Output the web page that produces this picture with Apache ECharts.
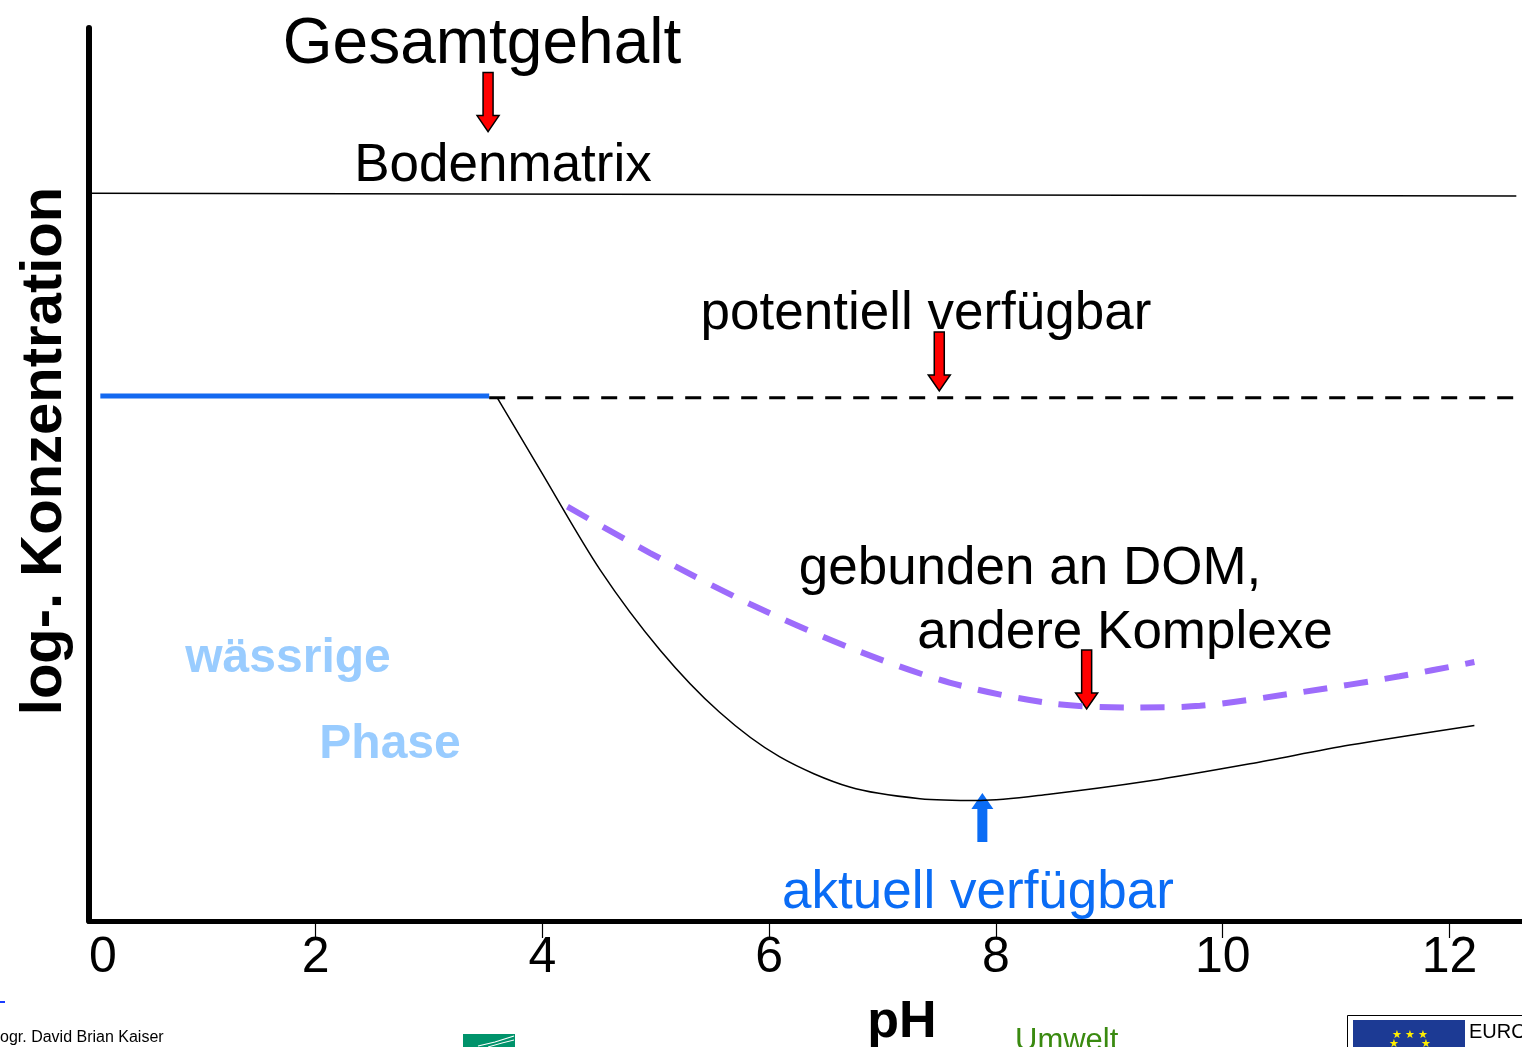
<!DOCTYPE html>
<html>
<head>
<meta charset="utf-8">
<title>pH - log. Konzentration</title>
<script src="https://cdn.jsdelivr.net/npm/echarts@6/dist/echarts.min.js"></script>
<style>
    html,body{margin:0;padding:0;background:#fff;}
    #chart{width:1522px;height:1047px;}
</style>
</head>
<body>
<div id="chart"></div>
<script>
// pH-Achse
var phTicks = [0, 2, 4, 6, 8, 10, 12];
var phTickMarks = [2, 4, 6, 8, 10, 12];

// Linien (x = pH, y = relative log-Konzentration 0..100)
var matrixPh   = [0, 12.59];
var matrixConc = [81.5, 81.2];

var waterPh    = [0.1, 3.53];
var waterConc  = [58.8, 58.8];

var potPh      = [3.53, 12.59];
var potConc    = [58.6, 58.6];

var actualPh   = [3.60, 3.98, 4.51, 5.04, 5.56, 6.09, 6.71, 7.33, 7.86, 8.47, 9.36, 10.24, 11.12, 12.22];
var actualConc = [58.6, 50.5, 39.3, 30.3, 23.4, 18.4, 15.0, 13.7, 13.5, 14.2, 15.7, 17.6, 19.7, 21.9];

var domPh      = [4.22, 4.95, 5.83, 6.71, 7.59, 8.47, 9.18, 9.80, 10.68, 11.56, 12.22];
var domConc    = [46.4, 41.2, 35.5, 30.6, 26.7, 24.4, 23.9, 24.1, 25.6, 27.4, 29.0];

// Pfeile: Spitze in Datenkoordinaten
var redArrows  = [[3.52, 88.4], [7.50, 59.35], [8.80, 23.74]];
var blueArrow  = [7.88, 14.33];

function zip(xs, ys){
    var out = [];
    for (var i = 0; i < xs.length; i++) out.push([xs[i], ys[i]]);
    return out;
}

var font = '"Liberation Sans", Arial, Helvetica, sans-serif';
var chart = echarts.init(document.getElementById('chart'));

var option = {
    animation: false,
    backgroundColor: '#fff',
    grid: {left: 89, right: 0, top: 28, bottom: 126, containLabel: false},
    xAxis: {
        type: 'value',
        min: 0,
        max: 12.64,
        interval: 2,
        axisLine: {show: true, lineStyle: {color: '#000', width: 5}},
        axisTick: {show: true, length: 17, customValues: phTickMarks, lineStyle: {color: '#000', width: 1.2}},
        axisLabel: {
            color: '#000', fontSize: 50, fontFamily: font, margin: 12,
            showMaxLabel: false,
            alignMinLabel: 'left',
            formatter: function(v){ return phTicks.indexOf(v) >= 0 ? String(v) : ''; }
        },
        splitLine: {show: false}
    },
    yAxis: {
        type: 'value',
        min: 0,
        max: 100,
        axisLine: {show: true, lineStyle: {color: '#000', width: 6}},
        axisTick: {show: false},
        axisLabel: {show: false},
        splitLine: {show: false}
    },
    series: [
        {
            name: 'Bodenmatrix', type: 'line', symbol: 'none', silent: true,
            data: zip(matrixPh, matrixConc),
            lineStyle: {color: '#000', width: 1.5}
        },
        {
            name: 'wässrige Phase', type: 'line', symbol: 'none', silent: true,
            data: zip(waterPh, waterConc),
            lineStyle: {color: '#1469f0', width: 5}
        },
        {
            name: 'potentiell verfügbar', type: 'line', symbol: 'none', silent: true,
            data: zip(potPh, potConc),
            lineStyle: {color: '#000', width: 3, type: [16, 12]}
        },
        {
            name: 'aktuell verfügbar', type: 'line', symbol: 'none', silent: true, smooth: 0.3,
            data: zip(actualPh, actualConc),
            lineStyle: {color: '#000', width: 1.5}
        },
        {
            name: 'gebunden an DOM', type: 'line', symbol: 'none', silent: true, smooth: 0.3,
            data: zip(domPh, domConc),
            lineStyle: {color: '#9d6cfb', width: 6, type: [24, 17]}
        }
    ]
};
chart.setOption(option);

function arrowPoints(x, y, len, dir){
    // dir = 1: nach unten (Spitze bei y), -1: nach oben
    var shaft = 5, head = 11, headLen = 16;
    var b = y - dir * headLen, t = y - dir * len;
    return [[x - shaft, t], [x + shaft, t], [x + shaft, b], [x + head, b],
            [x, y], [x - head, b], [x - shaft, b]];
}

function textEl(str, x, y, size, color, bold, align){
    return {
        type: 'text', x: x, y: y, silent: true,
        style: {
            text: str, fill: color, fontSize: size, fontFamily: font,
            fontWeight: bold ? 'bold' : 'normal',
            align: align || 'center', verticalAlign: 'middle'
        }
    };
}

var graphics = [];
redArrows.forEach(function(a){
    var p = chart.convertToPixel({gridIndex: 0}, a);
    graphics.push({
        type: 'polygon', silent: true,
        shape: {points: arrowPoints(p[0], p[1], 59, 1)},
        style: {fill: '#ff0000', stroke: '#000', lineWidth: 1.5}
    });
});
var bp = chart.convertToPixel({gridIndex: 0}, blueArrow);
graphics.push({
    type: 'polygon', silent: true,
    shape: {points: arrowPoints(bp[0], bp[1], 49, -1)},
    style: {fill: '#0a6cf5'}
});

graphics.push(
    textEl('Gesamtgehalt', 482, 45, 64, '#000'),
    textEl('Bodenmatrix', 503, 166, 53, '#000'),
    textEl('potentiell verfügbar', 926, 314, 53, '#000'),
    textEl('gebunden an DOM,', 1030, 569, 53, '#000'),
    textEl('andere Komplexe', 1125, 633, 53, '#000'),
    textEl('wässrige', 288, 659, 48, '#99ccff', true),
    textEl('Phase', 390, 745, 48, '#99ccff', true),
    textEl('aktuell verfügbar', 978, 893, 53, '#0a6cf5'),
    textEl('pH', 902, 1023, 52, '#000', true),
    {
        type: 'text', x: 45, y: 451, rotation: Math.PI / 2, silent: true,
        style: {
            text: 'log-. Konzentration', fill: '#000', fontSize: 58, fontFamily: font,
            fontWeight: 'bold', align: 'center', verticalAlign: 'middle'
        }
    },
    // Reste der Folienfußzeile
    {type: 'rect', silent: true, shape: {x: 0, y: 1001, width: 5, height: 2}, style: {fill: '#1a3cff'}},
    textEl('ogr. David Brian Kaiser', 0, 1038, 16, '#000', false, 'left'),
    {type: 'rect', silent: true, shape: {x: 463, y: 1034, width: 52, height: 13}, style: {fill: '#00936b'}},
    {type: 'polyline', silent: true, shape: {points: [[478, 1046], [495, 1042], [514, 1036]]}, style: {stroke: '#fff', lineWidth: 1.2, fill: null}},
    {type: 'polyline', silent: true, shape: {points: [[488, 1047], [502, 1043], [514, 1040]]}, style: {stroke: '#fff', lineWidth: 1, fill: null}},
    textEl('Umwelt', 1015, 1041, 31, '#3a8a10', false, 'left'),
    {type: 'rect', silent: true, shape: {x: 1347.5, y: 1015.5, width: 180, height: 40}, style: {fill: '#fff', stroke: '#000', lineWidth: 1}},
    {type: 'rect', silent: true, shape: {x: 1353, y: 1020, width: 112, height: 30}, style: {fill: '#1c3a94'}},
    textEl('★ ★ ★', 1410, 1035, 11, '#ffee00'),
    textEl('★       ★', 1410, 1044, 11, '#ffee00'),
    textEl('EURO', 1469, 1032, 20, '#000', false, 'left')
);

chart.setOption({graphic: graphics});
</script>
</body>
</html>
